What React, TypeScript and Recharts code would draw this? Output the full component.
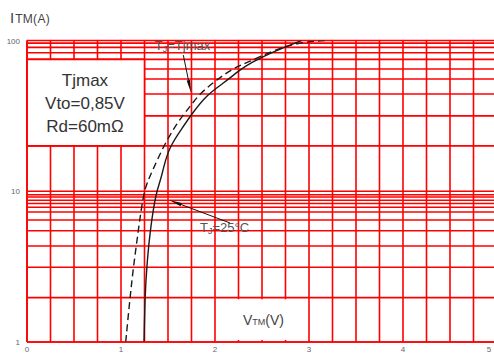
import React from 'react';
import { LineChart, Line, XAxis, YAxis, CartesianGrid, ReferenceArea, ReferenceLine, ReferenceDot } from 'recharts';

// forward voltage (V) vs. current (A)
const tjMaxV = [1.245, 1.255, 1.273, 1.309, 1.372, 1.422, 1.447, 1.51, 1.663, 1.76, 1.912, 2.088, 2.266, 2.38, 2.585, 2.92];
const tjMaxI = [1, 2, 3.1, 5.5, 9.8, 11.9, 13.9, 19.6, 26.9, 33, 43.6, 52, 63.9, 71, 82.5, 100];
const tj25V = [1.05, 1.096, 1.131, 1.184, 1.24, 1.29, 1.34, 1.447, 1.593, 1.734, 1.84, 2.018, 2.195, 2.337, 2.62, 2.88, 3.17];
const tj25I = [1, 1.97, 3.1, 5.5, 9.8, 11.9, 13.9, 19.6, 28.3, 36.5, 44.6, 54.8, 65.6, 71, 86, 97, 100];

// grid lines as drawn on the sheet
const xTicks = [0, 0.25, 0.5, 0.75, 1, 1.25, 1.5, 1.75, 2, 2.25, 2.5, 2.75, 3, 3.25, 3.5, 3.75, 4, 4.25, 4.5, 4.75, 5];
const xLabels = [0, 1, 2, 3, 4, 5];
const yGrid = [1, 1.97, 3.13, 4.33, 5.47, 6.45, 7.28, 7.83, 8.29, 8.71, 9.16, 9.47, 10, 20, 31.6, 44.2, 55.5, 64.7, 75, 83, 90, 96, 100];
const yLabels = [1, 10, 100];

const tjMaxData = tjMaxV.map((v, k) => ({ v, i: tjMaxI[k] }));
const tj25Data = tj25V.map((v, k) => ({ v, i: tj25I[k] }));

const RED = '#ff0000';
const FONT = '"Liberation Sans", Arial, sans-serif';

const XTick = ({ x, y, payload }: any) =>
  xLabels.includes(payload.value) ? (
    // the last label sits at the page edge, keep it inside
    <text x={Math.min(x, 489)} y={y} dy={10} textAnchor="middle" fontSize={8} fill="#666" fontFamily={FONT}>
      {payload.value}
    </text>
  ) : (
    <g />
  );

const YTick = ({ x, y, payload }: any) =>
  yLabels.includes(payload.value) ? (
    <text x={x} y={y} dy={3} textAnchor="end" fontSize={8} fill="#666" fontFamily={FONT}>
      {payload.value}
    </text>
  ) : (
    <g />
  );

const arrow = (p: any) => {
  const { x1, y1, x2, y2 } = p;
  const dx = x2 - x1;
  const dy = y2 - y1;
  const len = Math.sqrt(dx * dx + dy * dy) || 1;
  const ux = dx / len;
  const uy = dy / len;
  const bx = x2 - ux * 13;
  const by = y2 - uy * 13;
  const w = 1.8;
  return (
    <g>
      <line x1={x1} y1={y1} x2={bx} y2={by} stroke="#111" strokeWidth={1} />
      <polygon points={`${x2},${y2} ${bx - uy * w},${by + ux * w} ${bx + uy * w},${by - ux * w}`} fill="#111" />
    </g>
  );
};

const boxText = (p: any) => (
  <g fontFamily={FONT} fill="#333" fontSize={17} textAnchor="middle">
    <text x={p.cx} y={p.cy - 17.5}>Tjmax</text>
    <text x={p.cx} y={p.cy + 5.5}>Vto=0,85V</text>
    <text x={p.cx} y={p.cy + 28.5}>Rd=60mΩ</text>
  </g>
);

const tjMaxLabel = (p: any) => (
  <text x={p.cx} y={p.cy} dy={4} fontFamily={FONT} fill="#555" fontSize={13}>
    T<tspan fontSize={9} dy={2}>J</tspan>
    <tspan dy={-2}>=Tjmax</tspan>
  </text>
);

const tj25Label = (p: any) => (
  <text x={p.cx} y={p.cy} dy={4} fontFamily={FONT} fill="#555" fontSize={13}>
    T<tspan fontSize={9} dy={2}>J</tspan>
    <tspan dy={-2}>=25°C</tspan>
  </text>
);

const xTitle = (p: any) => (
  <text x={p.cx} y={p.cy} fontFamily={FONT} fill="#444" fontSize={14}>
    V<tspan fontSize={9}>TM</tspan>
    <tspan>(V)</tspan>
  </text>
);

const yTitle = (props: any) => {
  const vb = props.viewBox || { x: 0, y: 40 };
  return (
    <text x={vb.x + 10} y={vb.y - 17.5} fontFamily={FONT} fill="#444" fontSize={15}>
      I<tspan dx={1} fontSize={12} letterSpacing={0.3}>TM(A)</tspan>
    </text>
  );
};

export default function App() {
  return (
    <div style={{ position: 'absolute', left: 0, top: 0, width: 494, height: 356, overflow: 'hidden', background: '#fff' }}>
      <LineChart width={500} height={356} margin={{ top: 40.5, right: 3, bottom: 0, left: 0 }}>
        <CartesianGrid stroke={RED} strokeWidth={1.6} />
        <XAxis
          type="number"
          dataKey="v"
          domain={[0, 5]}
          ticks={xTicks}
          interval={0}
          allowDataOverflow
          height={14}
          tickSize={0}
          tickMargin={0}
          tick={<XTick />}
          axisLine={{ stroke: RED, strokeWidth: 1.6 }}
          tickLine={false}
        />
        <YAxis
          type="number"
          dataKey="i"
          scale="log"
          domain={[1, 100]}
          ticks={yGrid}
          interval={0}
          allowDataOverflow
          width={27}
          tickSize={0}
          tickMargin={7}
          tick={<YTick />}
          axisLine={{ stroke: RED, strokeWidth: 1.6 }}
          tickLine={false}
          label={{ content: yTitle }}
        />
        <ReferenceArea x1={0} x2={1.25} y1={20} y2={75} fill="#fff" fillOpacity={1} stroke={RED} strokeWidth={1.6} />
        <ReferenceArea x1={2.13} x2={2.87} y1={1.03} y2={1.92} fill="#fff" fillOpacity={1} stroke="none" />
        <Line data={tjMaxData} dataKey="i" type="basis" stroke="#1a1a1a" strokeWidth={1.4} dot={false} activeDot={false} isAnimationActive={false} />
        <Line data={tj25Data} dataKey="i" type="basis" stroke="#1a1a1a" strokeWidth={1.4} strokeDasharray="7 4" dot={false} activeDot={false} isAnimationActive={false} />
        <ReferenceLine segment={[{ x: 1.663, y: 80 }, { x: 1.745, y: 45 }]} shape={arrow} ifOverflow="visible" />
        <ReferenceLine segment={[{ x: 2.16, y: 6.16 }, { x: 1.511, y: 8.75 }]} shape={arrow} ifOverflow="visible" />
        <ReferenceDot x={0.617} y={38} r={1} shape={boxText} ifOverflow="visible" />
        <ReferenceDot x={1.36} y={92} r={1} shape={tjMaxLabel} ifOverflow="visible" />
        <ReferenceDot x={1.84} y={5.7} r={1} shape={tj25Label} ifOverflow="visible" />
        <ReferenceDot x={2.298} y={1.3} r={1} shape={xTitle} ifOverflow="visible" />
      </LineChart>
    </div>
  );
}
